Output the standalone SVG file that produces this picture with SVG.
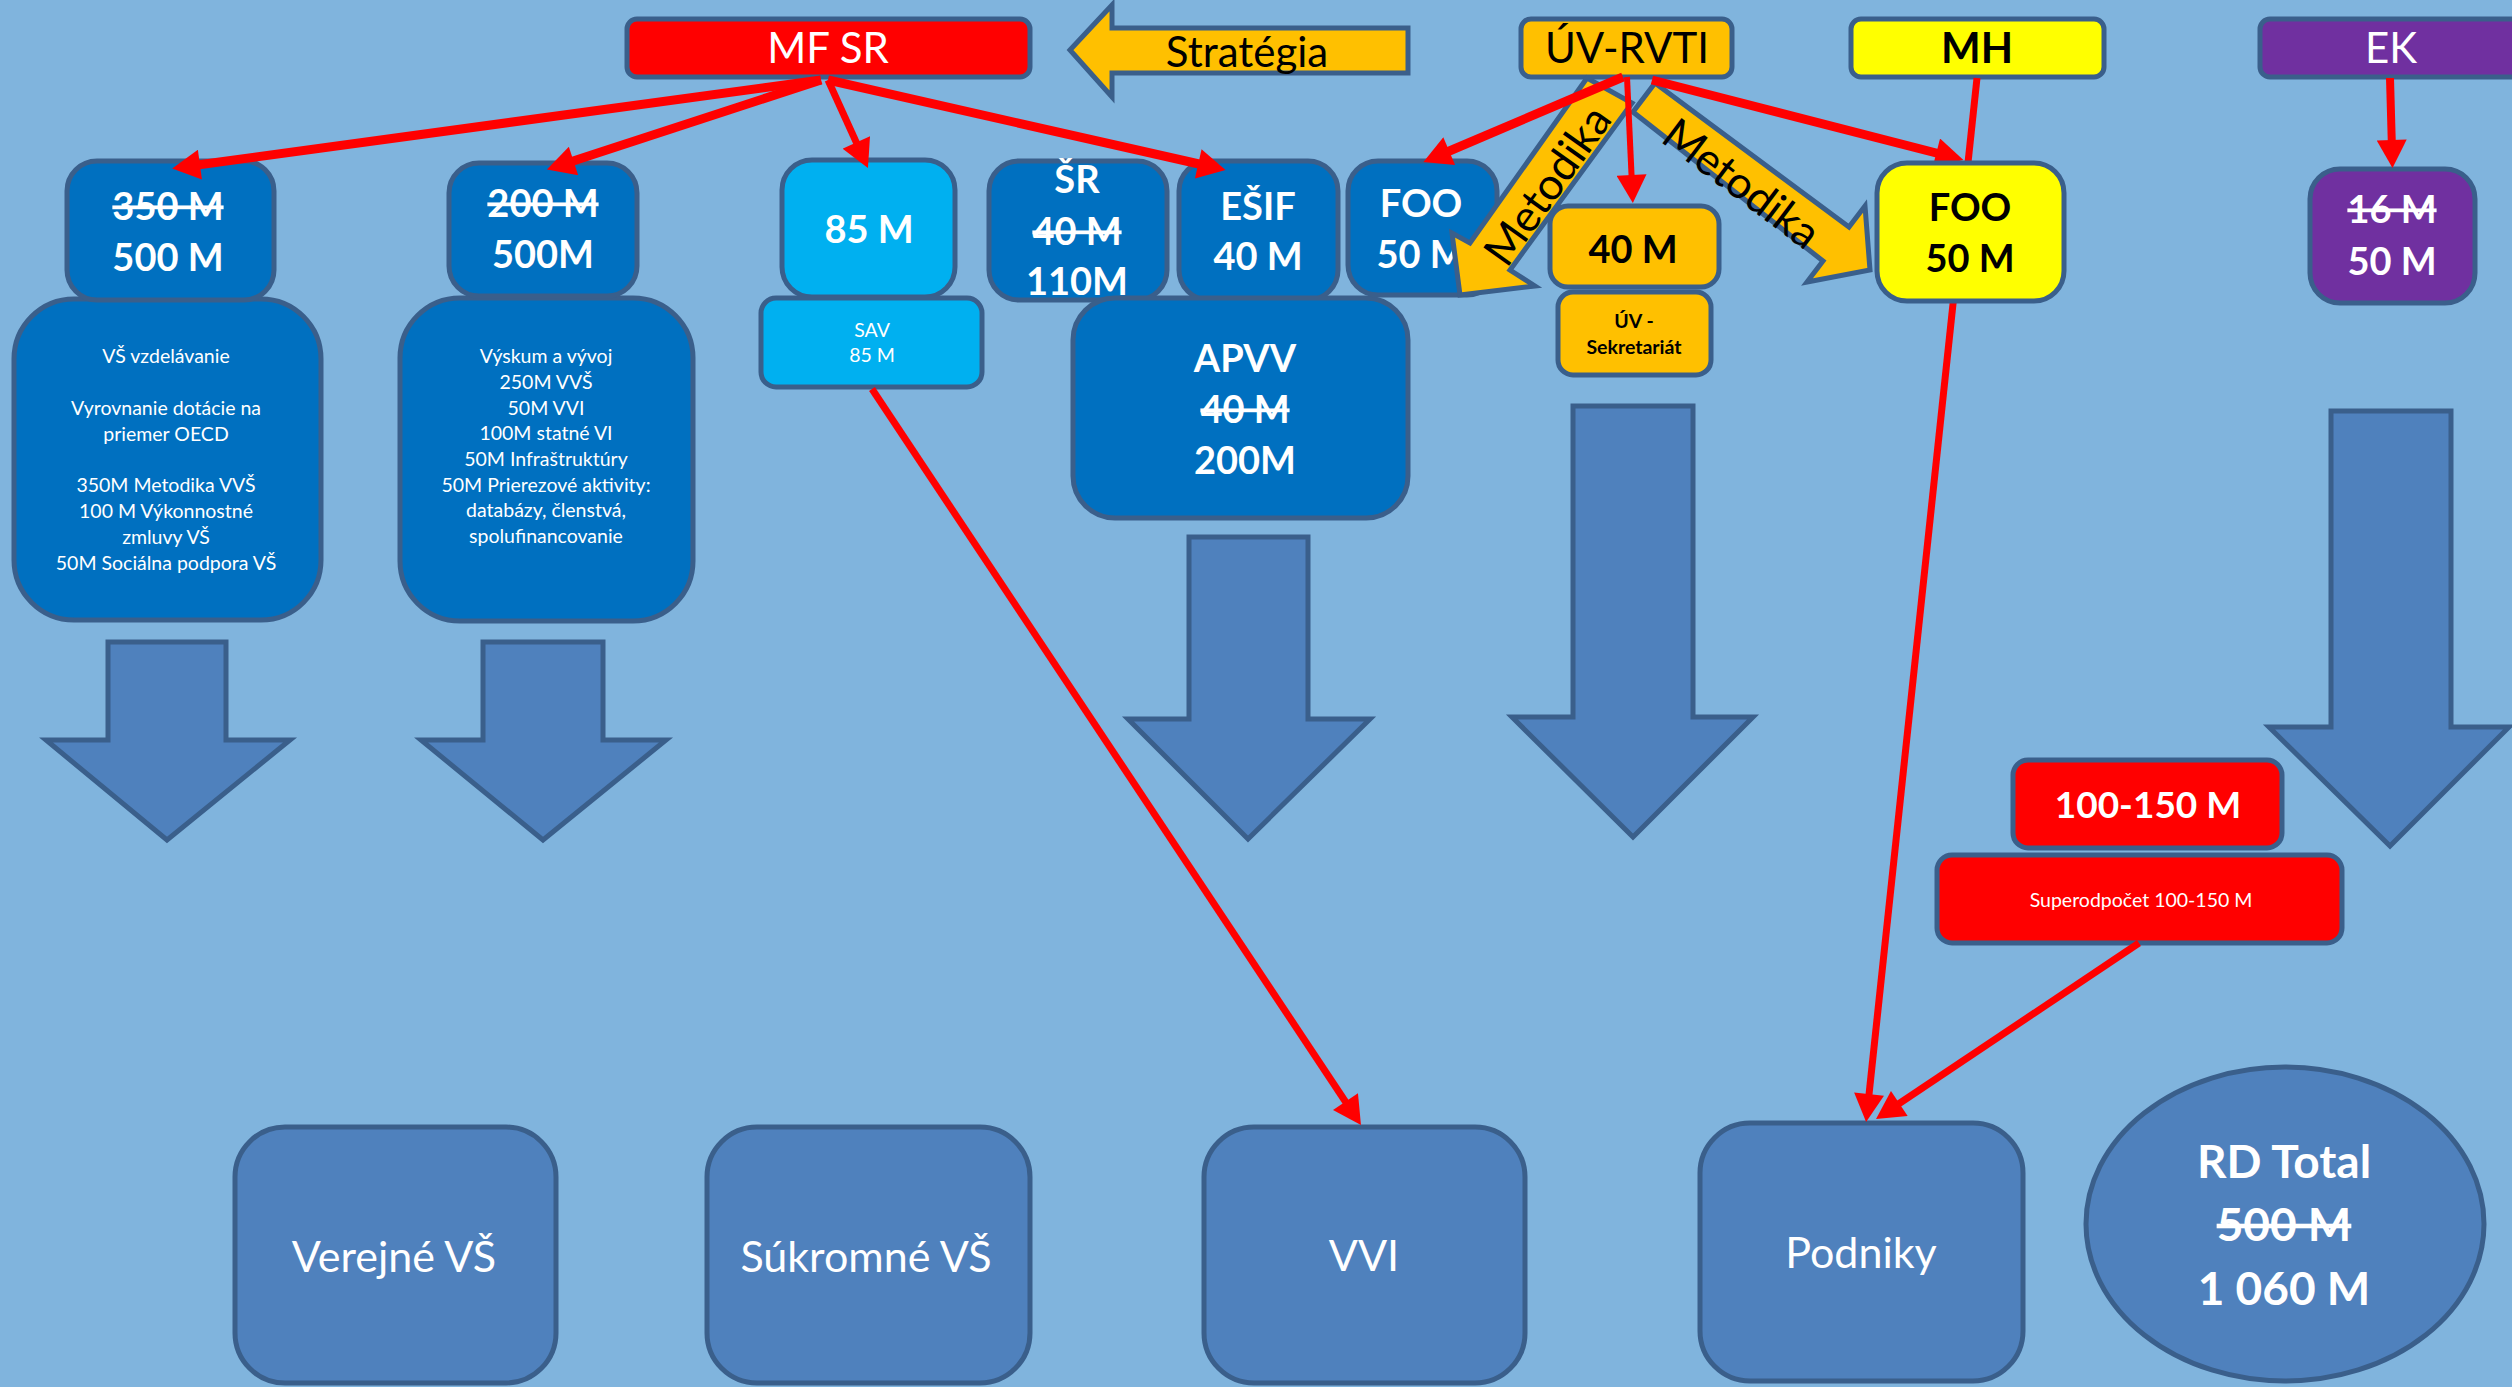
<svg xmlns="http://www.w3.org/2000/svg" width="2512" height="1387" viewBox="0 0 2512 1387">
<defs>
<style>
.bx{stroke:#3A5F8B;stroke-width:5}
.db{fill:#0070C0}.lb{fill:#00B0F0}.mb{fill:#4F81BD}.or{fill:#FFC000}.rd{fill:#FF0000}.yl{fill:#FFFF00}.pu{fill:#7030A0}
.ba{fill:#4F81BD;stroke:#3A5F8B;stroke-width:5;stroke-linejoin:miter}
.t{font-family:Lato,"Open Sans","Liberation Sans",sans-serif;text-anchor:middle}
.w{fill:#FFFFFF}.k{fill:#000000}
.b{font-weight:bold}
.s{text-decoration:line-through}
.f42{font-size:42px}.f44{font-size:44px}.f38{font-size:38px}.f19{font-size:19.5px}.f43{font-size:43px}.f46{font-size:46px}
.cn{stroke:#FF0000;fill:none;stroke-linecap:butt}
</style>
<marker id="ah" markerUnits="userSpaceOnUse" markerWidth="30" markerHeight="30" refX="10" refY="15" orient="auto" viewBox="0 0 28 30">
<path d="M0,0 L28,15 L0,30 z" fill="#FF0000"/>
</marker>
</defs>
<rect x="0" y="0" width="2512" height="1387" fill="#80B4DD"/>

<!-- top row -->
<g id="mfsr"><rect class="bx rd" x="627" y="19" width="403" height="58" rx="10"/><text class="t w f42" x="828" y="63">MF SR</text></g>
<g id="strategia"><polygon class="bx or" points="1070,50 1112,5 1112,28 1408,28 1408,73 1112,73 1112,97"/><text class="t k f42" x="1247" y="67">Stratégia</text></g>
<g id="uvrvti"><rect class="bx or" x="1521" y="19" width="211" height="58" rx="10"/><text class="t k f42" x="1627" y="63">ÚV-RVTI</text></g>
<g id="mh"><rect class="bx yl" x="1851" y="19" width="253" height="58" rx="10"/><text class="t k b f42" x="1977" y="63">MH</text></g>
<g id="ek"><rect class="bx pu" x="2260" y="19" width="270" height="58" rx="10"/><text class="t w f42" x="2391" y="63">EK</text></g>

<!-- second row -->
<g id="vs-desc"><rect class="bx db" x="14" y="299" width="307" height="321" rx="60"/>
<text class="t w f19" x="166"><tspan x="166" y="363">VŠ vzdelávanie</tspan><tspan x="166" y="415">Vyrovnanie dotácie na</tspan><tspan x="166" y="441">priemer OECD</tspan><tspan x="166" y="492">350M Metodika VVŠ</tspan><tspan x="166" y="518">100 M Výkonnostné</tspan><tspan x="166" y="544">zmluvy VŠ</tspan><tspan x="166" y="570">50M Sociálna podpora VŠ</tspan></text></g>
<g id="vs"><rect class="bx db" x="67" y="161" width="207" height="139" rx="30"/><text class="t w b f38 s" x="168" y="220">350 M</text><text class="t w b f38" x="168" y="271">500 M</text></g>

<g id="vyskum-desc"><rect class="bx db" x="400" y="298" width="293" height="323" rx="60"/>
<text class="t w f19" x="546"><tspan x="546" y="363">Výskum a vývoj</tspan><tspan x="546" y="389">250M VVŠ</tspan><tspan x="546" y="415">50M VVI</tspan><tspan x="546" y="440">100M statné VI</tspan><tspan x="546" y="466">50M Infraštruktúry</tspan><tspan x="546" y="492">50M Prierezové aktivity:</tspan><tspan x="546" y="517">databázy, členstvá,</tspan><tspan x="546" y="543">spolufinancovanie</tspan></text></g>
<g id="vyskum"><rect class="bx db" x="449" y="163" width="188" height="133" rx="30"/><text class="t w b f38 s" x="543" y="217">200 M</text><text class="t w b f38" x="543" y="268">500M</text></g>

<g id="sav85"><rect class="bx lb" x="782" y="160" width="173" height="137" rx="30"/><text class="t w b f38" x="869" y="243">85 M</text></g>
<g id="sav"><rect class="bx lb" x="761" y="298" width="221" height="89" rx="15"/><text class="t w f19" x="872" y="337">SAV</text><text class="t w f19" x="872" y="362">85 M</text></g>

<g id="sr"><rect class="bx db" x="989" y="161" width="178" height="139" rx="30"/><text class="t w b f38" x="1077" y="193">ŠR</text><text class="t w b f38 s" x="1077" y="245">40 M</text><text class="t w b f38" x="1077" y="295">110M</text></g>
<g id="esif"><rect class="bx db" x="1179" y="161" width="159" height="139" rx="30"/><text class="t w b f38" x="1258" y="220">EŠIF</text><text class="t w b f38" x="1258" y="270">40 M</text></g>
<g id="apvv"><rect class="bx db" x="1073" y="298" width="335" height="220" rx="42"/><text class="t w b f38" x="1245" y="372">APVV</text><text class="t w b f38 s" x="1245" y="423">40 M</text><text class="t w b f38" x="1245" y="474">200M</text></g>
<g id="foo-blue"><rect class="bx db" x="1348" y="161" width="149" height="134" rx="30"/><text class="t w b f38" x="1421" y="217">FOO</text><text class="t w b f38" x="1421" y="268">50 M</text></g>

<g id="metodika-left"><polygon class="bx or" points="1587,78 1470,243 1452,233 1460,295 1535,286 1510,270 1632,103"/><text class="t k f44" transform="translate(1547,185) rotate(-54.5)" y="16">Metodika</text></g>
<g id="metodika-right"><polygon class="bx or" points="1655,83 1849,227 1865,206 1870,270 1807,282 1823,261 1633,112"/><text class="t k f44" transform="translate(1742,183) rotate(37)" y="16">Metodika</text></g>

<g id="uv40"><rect class="bx or" x="1550" y="206" width="169" height="81" rx="18"/><text class="t k b f38" x="1633" y="263">40 M</text></g>
<g id="uv-sekretariat"><rect class="bx or" x="1558" y="292" width="153" height="83" rx="15"/><text class="t k b f19" x="1634" y="328">ÚV -</text><text class="t k b f19" x="1634" y="354">Sekretariát</text></g>

<g id="ek-box"><rect class="bx pu" x="2310" y="169" width="165" height="134" rx="30"/><text class="t w b f38 s" x="2392" y="223">16 M</text><text class="t w b f38" x="2392" y="275">50 M</text></g>

<!-- big arrows -->
<g id="arrow-vs"><polygon class="ba" points="108,642 226,642 226,740 290,740 167,840 46,740 108,740"/></g>
<g id="arrow-vyskum"><polygon class="ba" points="483,642 603,642 603,740 666,740 543,840 421,740 483,740"/></g>
<g id="arrow-apvv"><polygon class="ba" points="1189,537 1308,537 1308,719 1370,719 1248,839 1128,719 1189,719"/></g>
<g id="arrow-uv"><polygon class="ba" points="1573,406 1693,406 1693,717 1753,717 1633,837 1512,717 1573,717"/></g>
<g id="arrow-ek"><polygon class="ba" points="2331,411 2451,411 2451,727 2509,727 2390,846 2269,727 2331,727"/></g>

<!-- red boxes -->
<g id="r100"><rect class="bx rd" x="2013" y="760" width="269" height="88" rx="15"/><text class="t w b" style="font-size:37px" x="2148" y="818">100-150 M</text></g>
<g id="superodpocet"><rect class="bx rd" x="1937" y="855" width="405" height="88" rx="15"/><text class="t w f19" x="2141" y="907">Superodpočet 100-150 M</text></g>

<!-- bottom -->
<g id="verejne"><rect class="bx mb" x="235" y="1127" width="321" height="256" rx="50"/><text class="t w f43" x="394" y="1272">Verejné VŠ</text></g>
<g id="sukromne"><rect class="bx mb" x="707" y="1127" width="323" height="256" rx="50"/><text class="t w f43" x="866" y="1272">Súkromné VŠ</text></g>
<g id="vvi"><rect class="bx mb" x="1204" y="1127" width="321" height="256" rx="50"/><text class="t w f43" x="1364" y="1271">VVI</text></g>
<g id="podniky"><rect class="bx mb" x="1700" y="1123" width="323" height="258" rx="50"/><text class="t w f43" x="1861" y="1268">Podniky</text></g>
<g id="rdtotal"><ellipse class="bx mb" cx="2285" cy="1224" rx="199" ry="157"/><text class="t w b f46" x="2284" y="1178">RD Total</text><text class="t w b f46 s" x="2284" y="1241">500 M</text><text class="t w b f46" x="2284" y="1305">1 060 M</text></g>

<!-- connectors -->
<g id="connectors">
<line class="cn" stroke-width="9" x1="821" y1="80" x2="190" y2="166" marker-end="url(#ah)"/>
<line class="cn" stroke-width="9" x1="821" y1="80" x2="564" y2="164" marker-end="url(#ah)"/>
<line class="cn" stroke-width="7" x1="828" y1="80" x2="860.5" y2="151.6" marker-end="url(#ah)"/>
<line class="cn" stroke-width="9" x1="828" y1="80" x2="1208" y2="166" marker-end="url(#ah)"/>
<line class="cn" stroke-width="9" x1="1623" y1="77" x2="1440" y2="155" marker-end="url(#ah)"/>
<line class="cn" stroke-width="6" x1="1627" y1="77" x2="1632" y2="185" marker-end="url(#ah)"/>
<line class="cn" stroke-width="9" x1="1652" y1="80" x2="1946" y2="155.5" marker-end="url(#ah)"/>
<line class="cn" stroke-width="7" x1="1977" y1="78" x2="1868" y2="1104" marker-end="url(#ah)"/>
<line class="cn" stroke-width="8" x1="2390" y1="78" x2="2392" y2="150" marker-end="url(#ah)"/>
<line class="cn" stroke-width="7" x1="872" y1="389" x2="1351" y2="1110" marker-end="url(#ah)"/>
<line class="cn" stroke-width="7" x1="2139" y1="943" x2="1891" y2="1109" marker-end="url(#ah)"/>
</g>

<g id="foo-yellow"><rect class="bx yl" x="1877" y="163" width="187" height="138" rx="30"/><text class="t k b f38" x="1970" y="221">FOO</text><text class="t k b f38" x="1970" y="272">50 M</text></g>
</svg>
